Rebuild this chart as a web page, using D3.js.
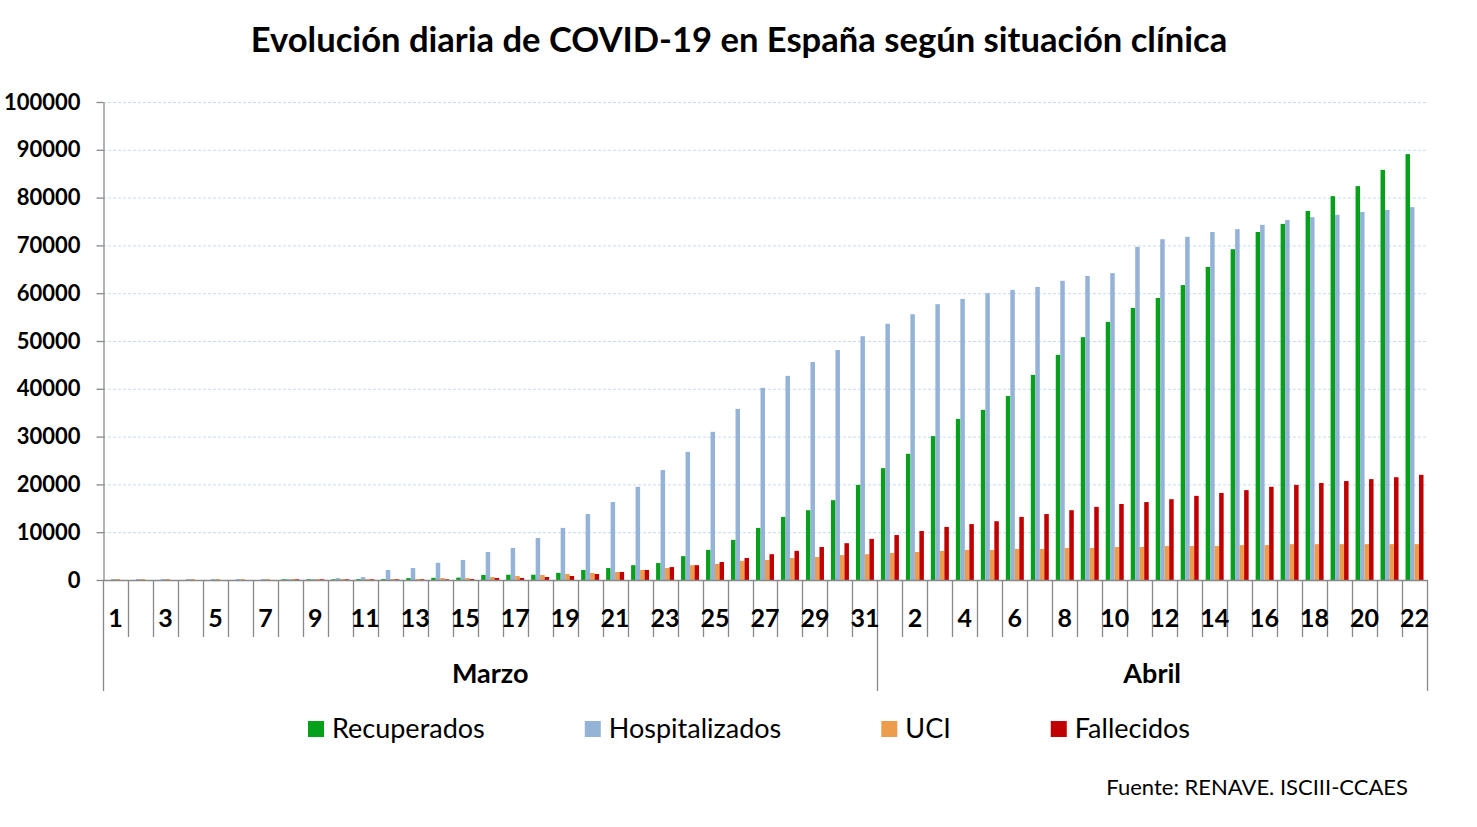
<!DOCTYPE html>
<html>
<head>
<meta charset="utf-8">
<script src="https://cdn.jsdelivr.net/npm/d3@7"></script>
<style>
  body { margin: 0; background: #fff; }
  svg { display: block; font-family: Lato, "Open Sans", sans-serif; }
</style>
</head>
<body>
<div id="chart"></div>
<script>
const width = 1477,
  height = 827,
  margin = { left: 103, right: 50, top: 102, bottom: 247 };

// categorías: días de marzo (31) y abril (22)
const dias = [
  1, 2, 3, 4, 5, 6, 7, 8, 9, 10, 11, 12, 13, 14, 15, 16, 17, 18, 19, 20, 21, 22, 23, 24, 25, 26, 27, 28, 29, 30, 31,
  1, 2, 3, 4, 5, 6, 7, 8, 9, 10, 11, 12, 13, 14, 15, 16, 17, 18, 19, 20, 21, 22
];
const meses = ["Marzo", "Abril"];
const diasPorMes = [31, 22];

const series = ["Recuperados", "Hospitalizados", "UCI", "Fallecidos"];
const colores = ["#06a01b", "#95b3d7", "#ec9c4a", "#c00000"];

const recuperados = [
  0, 0, 0, 0, 0, 0, 0, 150, 150, 150, 180, 190, 400, 450, 500, 1050, 1100, 1100, 1500, 2100, 2500, 3100, 3550, 5000, 6300, 8400, 10900, 13200, 14600, 16700, 19900,
  23400, 26400, 30100, 33700, 35600, 38500, 42900, 47100, 50800, 54000, 56900, 59000, 61700, 65500, 69200, 72800, 74500, 77200, 80300, 82400, 85800, 89100
];
const hospitalizados = [
  200, 200, 200, 200, 200, 200, 200, 200, 200, 400, 600, 2100, 2500, 3600, 4200, 5860, 6700, 8800, 10900, 13800, 16300, 19500, 23000, 26800, 31000, 35800, 40200, 42700, 45600, 48100, 51000,
  53600, 55600, 57700, 58800, 60000, 60700, 61300, 62600, 63600, 64200, 69700, 71300, 71800, 72800, 73400, 74300, 75300, 75900, 76400, 77000, 77400, 78000
];
const uci = [
  200, 200, 200, 200, 200, 200, 200, 200, 200, 200, 200, 200, 200, 400, 400, 630, 840, 1050, 1260, 1460, 1670, 2100, 2500, 3100, 3350, 4000, 4200, 4600, 4800, 5200, 5400,
  5650, 5860, 6070, 6280, 6280, 6500, 6500, 6700, 6700, 6900, 6900, 7100, 7100, 7100, 7300, 7300, 7500, 7500, 7500, 7500, 7500, 7500
];
const fallecidos = [
  0, 0, 0, 0, 0, 0, 0, 150, 150, 150, 150, 150, 150, 150, 200, 420, 420, 630, 840, 1260, 1670, 2100, 2700, 3100, 3770, 4600, 5400, 6100, 6900, 7700, 8600,
  9400, 10250, 11100, 11700, 12300, 13200, 13800, 14600, 15300, 15900, 16300, 16900, 17600, 18200, 18800, 19500, 19900, 20300, 20700, 21100, 21500, 22000
];

const yTicks = [0, 10000, 20000, 30000, 40000, 50000, 60000, 70000, 80000, 90000, 100000];

const valores = [recuperados, hospitalizados, uci, fallecidos];
const data = dias.map((d, i) => ({
  i: i,
  dia: d,
  vals: series.map((s, j) => ({ serie: s, j: j, v: valores[j][i] }))
}));

const plotBottom = height - margin.bottom; // 580
const plotRight = width - margin.right; // 1427

const x0 = d3
  .scaleBand()
  .domain(d3.range(dias.length))
  .range([margin.left, plotRight])
  .paddingInner(0.28)
  .paddingOuter(0.14);

const x1 = d3.scaleBand().domain(d3.range(series.length)).range([0, x0.bandwidth()]);

// bordes de categoría (separadores)
const xb = d3.scaleLinear().domain([0, dias.length]).range([margin.left, plotRight]);

const y = d3.scaleLinear().domain([0, 100000]).range([plotBottom, margin.top]);

const svg = d3
  .select("#chart")
  .append("svg")
  .attr("width", width)
  .attr("height", height);

// title
svg
  .append("text")
  .attr("x", 739)
  .attr("y", 52)
  .attr("text-anchor", "middle")
  .attr("font-size", 34.6)
  .attr("font-weight", 700)
  .attr("fill", "#000")
  .text("Evolución diaria de COVID-19 en España según situación clínica");

// grid
svg
  .append("g")
  .selectAll("line")
  .data(yTicks.filter((d) => d > 0))
  .enter()
  .append("line")
  .attr("x1", margin.left)
  .attr("x2", plotRight)
  .attr("y1", (d) => y(d) + 0.5)
  .attr("y2", (d) => y(d) + 0.5)
  .attr("stroke", "#c6dbef")
  .attr("stroke-width", 1)
  .attr("stroke-dasharray", "3,2");

// y axis
const yAxis = svg
  .append("g")
  .attr("transform", `translate(${margin.left + 0.5},0)`)
  .call(d3.axisLeft(y).tickValues(yTicks).tickSize(7).tickSizeOuter(0).tickPadding(16).tickFormat(d3.format("d")));
yAxis.selectAll("path, line").attr("stroke", "#898989").attr("stroke-width", 1.3);
yAxis
  .selectAll("text")
  .attr("font-family", "Lato, sans-serif")
  .attr("font-size", 22)
  .attr("font-weight", 700)
  .attr("fill", "#000");

// bars
const grupos = svg
  .append("g")
  .selectAll("g")
  .data(data)
  .enter()
  .append("g")
  .attr("transform", (d) => `translate(${x0(d.i)},0)`);

grupos
  .selectAll("rect")
  .data((d) => d.vals)
  .enter()
  .append("rect")
  .attr("x", (d) => x1(d.j))
  .attr("width", x1.bandwidth())
  .attr("y", (d) => y(d.v))
  .attr("height", (d) => y(0) - y(d.v))
  .attr("fill", (d) => colores[d.j]);

// x axis: base line and category separators
const xg = svg.append("g").attr("stroke", "#898989").attr("stroke-width", 1.3);
xg.append("line")
  .attr("x1", margin.left)
  .attr("x2", plotRight)
  .attr("y1", plotBottom + 0.5)
  .attr("y2", plotBottom + 0.5);

const limitesMes = [0, diasPorMes[0], diasPorMes[0] + diasPorMes[1]];
xg.selectAll(".sep")
  .data(d3.range(dias.length + 1))
  .enter()
  .append("line")
  .attr("x1", (k) => Math.round(xb(k)) + 0.5)
  .attr("x2", (k) => Math.round(xb(k)) + 0.5)
  .attr("y1", plotBottom)
  .attr("y2", (k) => (limitesMes.includes(k) ? 691 : 637));

// day labels (every other day)
const xAxis = svg
  .append("g")
  .attr("transform", `translate(0,${plotBottom})`)
  .call(
    d3
      .axisBottom(x0)
      .tickValues(d3.range(0, dias.length, 2))
      .tickSize(0)
      .tickPadding(29)
      .tickFormat((i) => dias[i])
  );
xAxis.select(".domain").remove();
xAxis
  .selectAll("text")
  .attr("font-family", "Lato, sans-serif")
  .attr("font-size", 25)
  .attr("font-weight", 700)
  .attr("fill", "#000");

// month labels
svg
  .append("g")
  .selectAll("text")
  .data(meses)
  .enter()
  .append("text")
  .attr("x", (d, i) => (xb(limitesMes[i]) + xb(limitesMes[i + 1])) / 2)
  .attr("y", 683)
  .attr("text-anchor", "middle")
  .attr("font-size", 27)
  .attr("font-weight", 700)
  .text((d) => d);

// legend
const legend = svg.append("g").attr("transform", "translate(308,729)");
let lx = 0;
series.forEach((s, j) => {
  const item = legend.append("g").attr("transform", `translate(${lx},0)`);
  item
    .append("rect")
    .attr("x", 0)
    .attr("y", -8)
    .attr("width", 16)
    .attr("height", 16)
    .attr("fill", colores[j]);
  const t = item
    .append("text")
    .attr("x", 24)
    .attr("y", 9)
    .attr("font-size", 27)
    .attr("fill", "#000")
    .text(s);
  lx += 24 + t.node().getComputedTextLength() + 100;
});

// source
svg
  .append("text")
  .attr("x", 1408)
  .attr("y", 795)
  .attr("text-anchor", "end")
  .attr("font-size", 22)
  .attr("fill", "#000")
  .text("Fuente: RENAVE. ISCIII-CCAES");
</script>
</body>
</html>
